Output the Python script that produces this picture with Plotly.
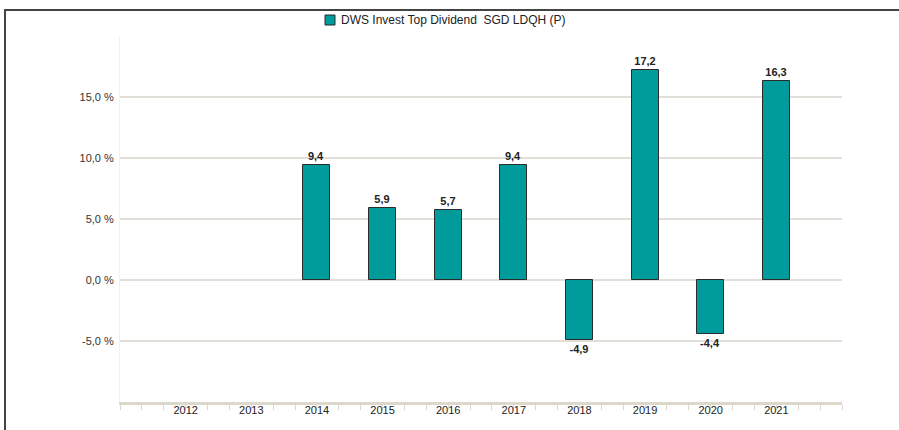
import plotly.graph_objects as go

years = [2014, 2015, 2016, 2017, 2018, 2019, 2020, 2021]
values = [9.4, 5.9, 5.7, 9.4, -4.9, 17.2, -4.4, 16.3]
tick_years = list(range(2012, 2022))
y_grid = [-10, -5, 0, 5, 10, 15, 20]
series_name = "DWS Invest Top Dividend&nbsp; SGD LDQH (P)"

W, H = 899, 430
L, R, T, B = 120, 842, 36, 402

def px(x):
    return (x - L) / (R - L)

def py(y):
    return (B - y) / (B - T)

labels = ["<b>" + f"{v:.1f}".replace(".", ",") + "</b>" for v in values]
teal = "#009b9b"

fig = go.Figure()
fig.add_trace(go.Bar(
    x=years, y=values, width=0.41,
    marker=dict(color=teal, line=dict(color="#2b2b2b", width=1)),
    text=labels, textposition="outside", cliponaxis=False,
    textfont=dict(family="Liberation Sans, Arial", size=11, color="#222"),
    showlegend=False, hoverinfo="skip",
))

fig.update_layout(
    width=W, height=H,
    margin=dict(l=L, r=W - R, t=T, b=H - B, pad=0),
    paper_bgcolor="white", plot_bgcolor="white",
    font=dict(family="Liberation Sans, Arial", size=11, color="#333"),
    bargap=0,
)
fig.update_xaxes(
    range=[2011, 2022], tickmode="array", tickvals=tick_years,
    ticktext=[str(y) for y in tick_years], ticks="",
    showgrid=False, zeroline=False,
    showline=True, linecolor="#dcd8cc", linewidth=3,
    ticklabelstandoff=-4,
    tickfont=dict(size=11, color="#222"),
    minor=dict(tickmode="linear", tick0=2011, dtick=1/3, ticks="outside",
               ticklen=5, tickcolor="#dcd8cc", tickwidth=1, showgrid=False),
)
fig.update_yaxes(
    range=[-10, 20], tickmode="array", tickvals=y_grid,
    ticktext=["" if v in (-10, 20) else f"{v:.1f}".replace(".", ",") + " %" for v in y_grid],
    showgrid=True, gridcolor="#e2dfd8", gridwidth=1.5,
    zeroline=False, showline=True, linecolor="#f3f1ec", linewidth=1,
    ticks="", ticklabelstandoff=3,
    tickfont=dict(size=11, color="#333"),
)

# frame
fig.add_shape(type="line", xref="paper", yref="paper",
              x0=px(4), x1=px(899), y0=py(10), y1=py(10),
              line=dict(color="#444", width=2))
fig.add_shape(type="line", xref="paper", yref="paper",
              x0=px(5), x1=px(5), y0=py(9), y1=py(430),
              line=dict(color="#444", width=2))

# legend
fig.add_shape(type="rect", xref="paper", yref="paper",
              x0=px(325), x1=px(335), y0=py(25), y1=py(15),
              fillcolor=teal, line=dict(color="#2b2b2b", width=1))
fig.add_annotation(xref="paper", yref="paper", x=px(339), y=py(20),
                   xanchor="left", yanchor="middle", showarrow=False,
                   text=series_name,
                   font=dict(family="Liberation Sans, Arial", size=12, color="#222"))

fig.write_html("out.html", config={"displayModeBar": False},
               post_script="document.body.style.margin='0px';")
